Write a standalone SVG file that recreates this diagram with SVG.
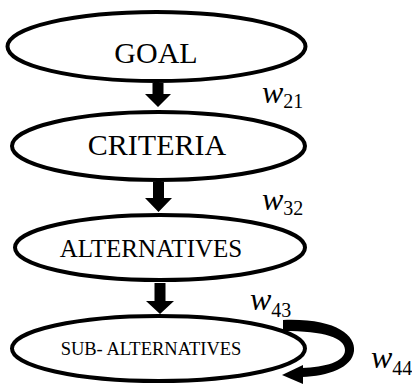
<svg xmlns="http://www.w3.org/2000/svg" width="412" height="385" viewBox="0 0 412 385">
  <style>
    .node ellipse { fill: #ffffff; stroke: #000000; stroke-width: 4; }
    .label { font-family: "Liberation Serif", "Times New Roman", serif; fill: #000000; text-anchor: middle; }
    .w { font-family: "Liberation Serif", "Times New Roman", serif; font-style: italic; font-size: 32px; fill: #000000; }
    .sub { font-family: "Liberation Serif", "Times New Roman", serif; font-size: 20px; fill: #000000; }
    .shaft { fill: #000000; }
  </style>
  <rect width="412" height="385" fill="#ffffff"/>

  <g id="goal" class="node">
    <ellipse cx="156.5" cy="46.5" rx="149" ry="34.5"/>
    <text class="label" x="156" y="63" font-size="30">GOAL</text>
  </g>

  <g id="criteria" class="node">
    <ellipse cx="158.5" cy="146" rx="146.5" ry="34"/>
    <text class="label" x="157" y="155" font-size="30">CRITERIA</text>
  </g>

  <g id="alternatives" class="node">
    <ellipse cx="160" cy="247.5" rx="145" ry="32.5"/>
    <text class="label" x="151" y="257" font-size="25">ALTERNATIVES</text>
  </g>

  <g id="sub-alternatives" class="node">
    <ellipse cx="158.5" cy="348.5" rx="146.5" ry="32.5"/>
    <text class="label" x="151" y="355" font-size="18.5">SUB- ALTERNATIVES</text>
  </g>

  <g id="connectors">
    <!-- goal to criteria -->
    <polygon class="shaft" points="152.5,83 163.5,83 163.5,94 171,94 158,107 145,94 152.5,94"/>
    <!-- criteria to alternatives -->
    <polygon class="shaft" points="153,182 164,182 164,198 172,198 158.5,212 145,198 153,198"/>
    <!-- alternatives to sub-alternatives -->
    <polygon class="shaft" points="154.5,283 165.5,283 165.5,301 174,301 160,314 146,301 154.5,301"/>
    <!-- sub-alternatives feedback loop: tapering band plus head -->
    <path class="shaft" d="M 283 320 C 335 318, 356 335, 354 351 C 352 368, 328 376, 302 377 L 302 368 C 325 367, 345 362, 345 350 C 345 338, 325 331, 283 331 Z"/>
    <polygon class="shaft" points="282,375 303,365 303,384"/>
  </g>

  <g id="weights">
    <text x="262" y="103"><tspan class="w">w</tspan><tspan class="sub" dy="5">21</tspan></text>
    <text x="262" y="210"><tspan class="w">w</tspan><tspan class="sub" dy="5">32</tspan></text>
    <text x="250" y="310"><tspan class="w">w</tspan><tspan class="sub" dy="7">43</tspan></text>
    <text x="371" y="368"><tspan class="w">w</tspan><tspan class="sub" dy="7">44</tspan></text>
  </g>
</svg>
